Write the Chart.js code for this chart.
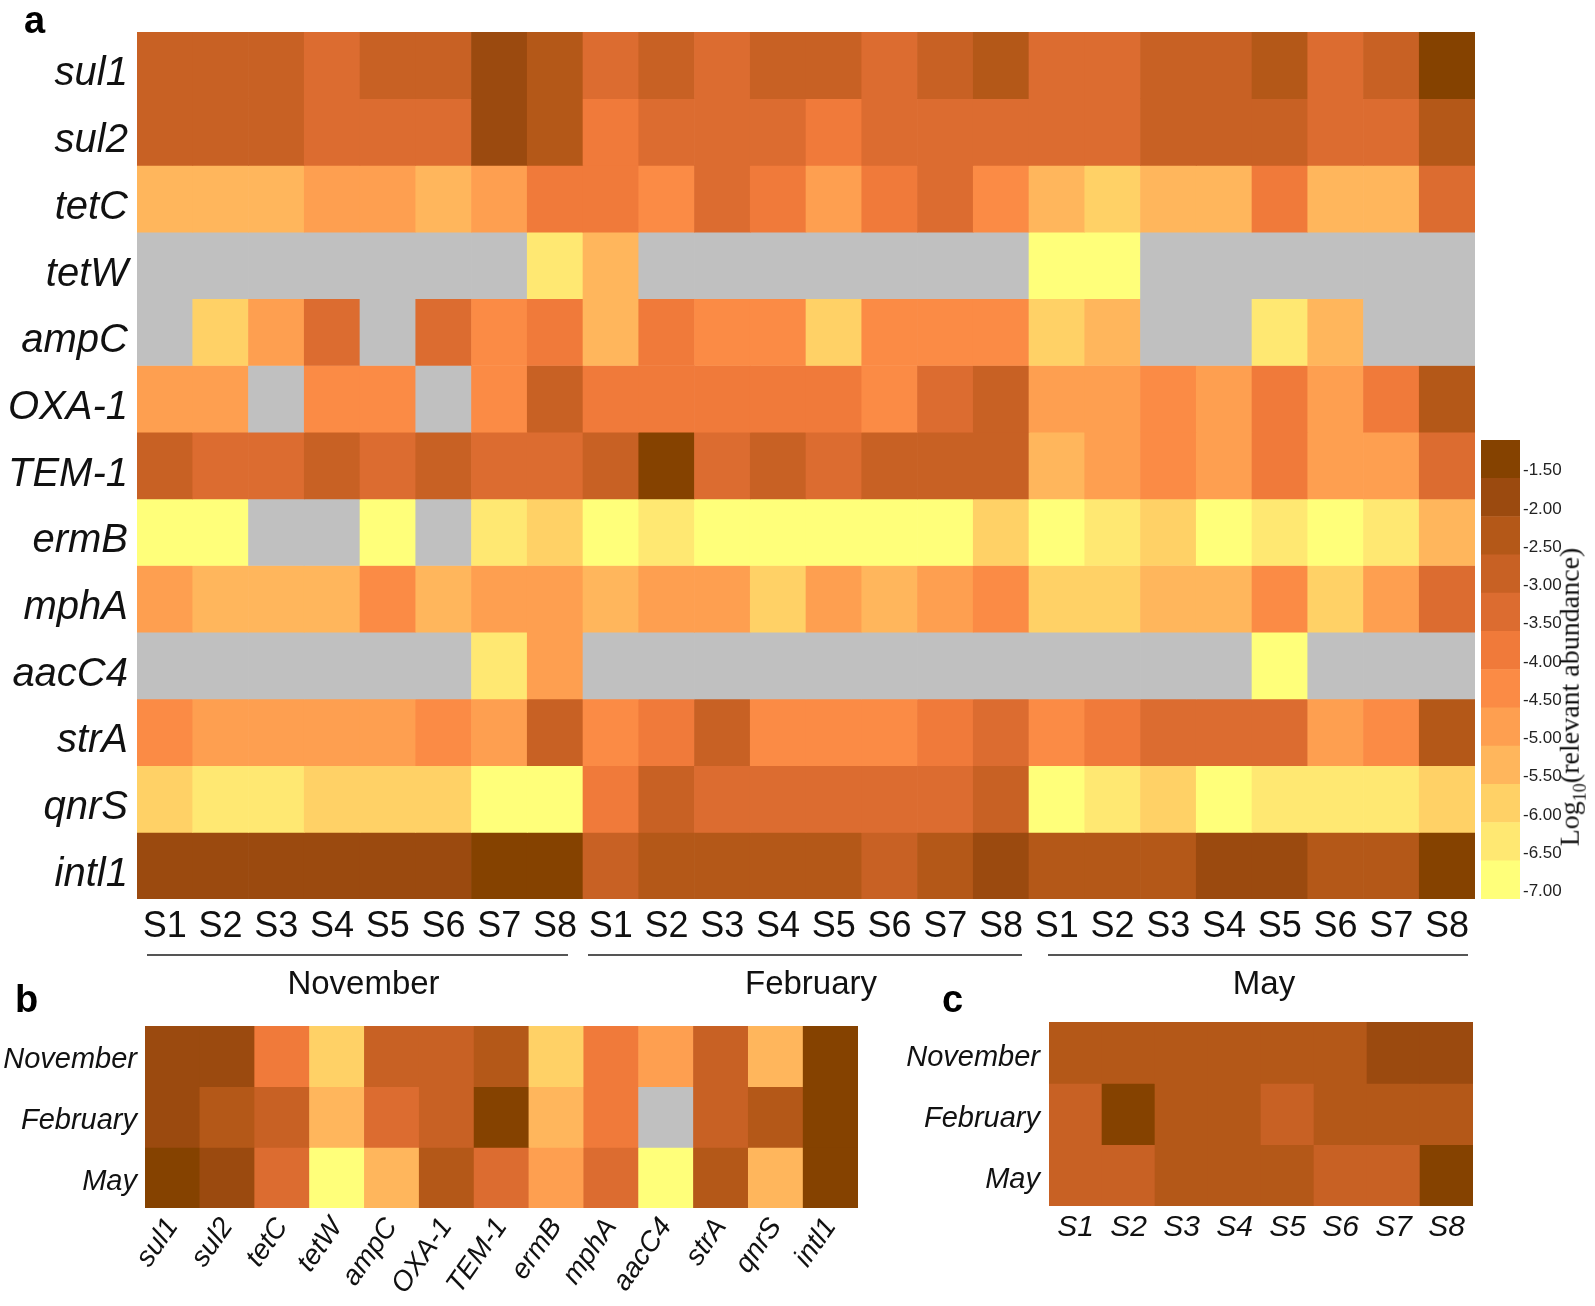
<!DOCTYPE html>
<html>
<head>
<meta charset="utf-8">
<script src="https://cdn.jsdelivr.net/npm/chart.js@4.4.1/dist/chart.umd.min.js"></script>
<style>
  body { margin: 0; background: #fff; }
  #wrap { position: relative; width: 1595px; height: 1306px; overflow: hidden; font-family: "Liberation Sans", Arial, sans-serif; }
  canvas { position: absolute; }
  .panel { position: absolute; font-weight: bold; font-size: 38px; line-height: 38px; color: #000; }
  #cbTitle { position: absolute; left: 1572px; top: 697px; transform: translate(-50%, -50%) rotate(-90deg);
             white-space: nowrap; font-family: "Liberation Serif", "Times New Roman", serif; font-size: 28px; color: #111; }
  #cbTitle sub { font-size: 18px; }
</style>
</head>
<body>
<div id="wrap">
  <canvas id="heatA" width="1480" height="1005" style="left:0;top:-2px"></canvas>
  <canvas id="colorBar" width="155" height="520" style="left:1440px;top:400px"></canvas>
  <canvas id="heatB" width="870" height="306" style="left:0;top:996px"></canvas>
  <canvas id="heatC" width="620" height="306" style="left:870px;top:992px"></canvas>
  <div class="panel" style="left:24px;top:1px">a</div>
  <div class="panel" style="left:15px;top:980px">b</div>
  <div class="panel" style="left:942px;top:980px">c</div>
  <div id="cbTitle">Log<sub>10</sub>(relevant abundance)</div>
</div>
<script>
var genes = ["sul1", "sul2", "tetC", "tetW", "ampC", "OXA-1", "TEM-1", "ermB", "mphA", "aacC4", "strA", "qnrS", "intl1"];
var sites = ["S1", "S2", "S3", "S4", "S5", "S6", "S7", "S8"];
var months = ["November", "February", "May"];

// colour scale of the legend (log10 relative abundance)
var colorTicks = [-1.5, -2.0, -2.5, -3.0, -3.5, -4.0, -4.5, -5.0, -5.5, -6.0, -6.5, -7.0];
var colorBreaks = [-7.1, -6.6, -6.1, -5.6, -5.1, -4.6, -4.1, -3.6, -3.1, -2.6, -2.1, -1.6, -1.1];
var palette = ["#ffff7a", "#ffe872", "#ffd166", "#ffb65c", "#fe9f50", "#fb8b45", "#f07a3a",
               "#dc6c30", "#c86124", "#b45818", "#9b4a0f", "#854200"];
var notDetected = "#c0c0c0";

// panel a: Nov S1-S8, Feb S1-S8, May S1-S8  (null = not detected)
var sul1  = [-3.0, -3.0, -3.0, -3.5, -3.0, -3.0, -2.0, -2.5,  -3.5, -3.0, -3.5, -3.0, -3.0, -3.5, -3.0, -2.5,  -3.5, -3.5, -3.0, -3.0, -2.5, -3.5, -3.0, -1.5];
var sul2  = [-3.0, -3.0, -3.0, -3.5, -3.5, -3.5, -2.0, -2.5,  -4.0, -3.5, -3.5, -3.5, -4.0, -3.5, -3.5, -3.5,  -3.5, -3.5, -3.0, -3.0, -3.0, -3.5, -3.5, -2.5];
var tetC  = [-5.5, -5.5, -5.5, -5.0, -5.0, -5.5, -5.0, -4.0,  -4.0, -4.5, -3.5, -4.0, -5.0, -4.0, -3.5, -4.5,  -5.5, -6.0, -5.5, -5.5, -4.0, -5.5, -5.5, -3.5];
var tetW  = [null, null, null, null, null, null, null, -6.5,  -5.5, null, null, null, null, null, null, null,  -7.0, -7.0, null, null, null, null, null, null];
var ampC  = [null, -6.0, -5.0, -3.5, null, -3.5, -4.5, -4.0,  -5.5, -4.0, -4.5, -4.5, -6.0, -4.5, -4.5, -4.5,  -6.0, -5.5, null, null, -6.5, -5.5, null, null];
var oxa1  = [-5.0, -5.0, null, -4.5, -4.5, null, -4.5, -3.0,  -4.0, -4.0, -4.0, -4.0, -4.0, -4.5, -3.5, -3.0,  -5.0, -5.0, -4.5, -5.0, -4.0, -5.0, -4.0, -2.5];
var tem1  = [-3.0, -3.5, -3.5, -3.0, -3.5, -3.0, -3.5, -3.5,  -3.0, -1.5, -3.5, -3.0, -3.5, -3.0, -3.0, -3.0,  -5.5, -5.0, -4.5, -5.0, -4.0, -5.0, -5.0, -3.5];
var ermB  = [-7.0, -7.0, null, null, -7.0, null, -6.5, -6.0,  -7.0, -6.5, -7.0, -7.0, -7.0, -7.0, -7.0, -6.0,  -7.0, -6.5, -6.0, -7.0, -6.5, -7.0, -6.5, -5.5];
var mphA  = [-5.0, -5.5, -5.5, -5.5, -4.5, -5.5, -5.0, -5.0,  -5.5, -5.0, -5.0, -6.0, -5.0, -5.5, -5.0, -4.5,  -6.0, -6.0, -5.5, -5.5, -4.5, -6.0, -5.0, -3.5];
var aacC4 = [null, null, null, null, null, null, -6.5, -5.0,  null, null, null, null, null, null, null, null,  null, null, null, null, -7.0, null, null, null];
var strA  = [-4.5, -5.0, -5.0, -5.0, -5.0, -4.5, -5.0, -3.0,  -4.5, -4.0, -3.0, -4.5, -4.5, -4.5, -4.0, -3.5,  -4.5, -4.0, -3.5, -3.5, -3.5, -5.0, -4.5, -2.5];
var qnrS  = [-6.0, -6.5, -6.5, -6.0, -6.0, -6.0, -7.0, -7.0,  -4.0, -3.0, -3.5, -3.5, -3.5, -3.5, -3.5, -3.0,  -7.0, -6.5, -6.0, -7.0, -6.5, -6.5, -6.5, -6.0];
var intl1 = [-2.0, -2.0, -2.0, -2.0, -2.0, -2.0, -1.5, -1.5,  -3.0, -2.5, -2.5, -2.5, -2.5, -3.0, -2.5, -2.0,  -2.5, -2.5, -2.5, -2.0, -2.0, -2.5, -2.5, -1.5];

// panel b: per gene for each month
var bNovember = [-2.0, -2.0, -4.0, -6.0, -3.0, -3.0, -2.5, -6.0, -4.0, -5.0, -3.0, -5.5, -1.5];
var bFebruary = [-2.0, -2.5, -3.0, -5.5, -3.5, -3.0, -1.5, -5.5, -4.0, null, -3.0, -2.5, -1.5];
var bMay      = [-1.5, -2.0, -3.5, -7.0, -5.5, -2.5, -3.5, -5.0, -3.5, -7.0, -2.5, -5.5, -1.5];

// panel c: per site for each month
var cNovember = [-2.5, -2.5, -2.5, -2.5, -2.5, -2.5, -2.0, -2.0];
var cFebruary = [-3.0, -1.5, -2.5, -2.5, -3.0, -2.5, -2.5, -2.5];
var cMay      = [-3.0, -3.0, -2.5, -2.5, -2.5, -3.0, -3.0, -1.5];

var regular = "'Liberation Sans', Arial, sans-serif";

function colorOf(v) {
    if (v === null) return notDetected;
    for (var k = 0; k < palette.length; k++) {
        if (v < colorBreaks[k + 1]) return palette[k];
    }
    return palette[palette.length - 1];
}

// a heatmap = stacked bars of height 1, one dataset per row
function makeHeatmap(id, xLabels, rowLabels, rows, cfg) {
    var datasets = rows.map(function (row, r) {
        return {
            label: rowLabels[r],
            data: row.map(function () { return 1; }),
            backgroundColor: row.map(colorOf),
            borderWidth: 0,
            barPercentage: 1.0,
            categoryPercentage: 1.0
        };
    });
    return new Chart(document.getElementById(id), {
        type: "bar",
        data: { labels: xLabels, datasets: datasets },
        options: {
            responsive: false,
            animation: false,
            devicePixelRatio: 1,
            layout: { padding: cfg.padding },
            plugins: { legend: { display: false }, tooltip: { enabled: false } },
            scales: {
                x: {
                    stacked: true,
                    grid: { display: false, drawTicks: false },
                    border: { display: false },
                    afterFit: function (s) { s.height = cfg.xHeight; },
                    ticks: { color: "#111", font: cfg.xFont, padding: cfg.xPad, autoSkip: false,
                             maxRotation: cfg.rot, minRotation: cfg.rot }
                },
                y: {
                    stacked: true,
                    reverse: true,
                    min: 0,
                    max: rows.length,
                    grid: { display: false, drawTicks: false },
                    border: { display: false },
                    afterFit: function (s) { s.width = cfg.yWidth; },
                    afterBuildTicks: function (s) {
                        s.ticks = rowLabels.map(function (l, i) { return { value: i + 0.5 }; });
                    },
                    ticks: { color: "#111", font: cfg.yFont, padding: cfg.yPad, autoSkip: false,
                             labelOffset: cfg.yShift,
                             callback: function (v, i) { return rowLabels[i]; } }
                }
            }
        },
        plugins: cfg.plugins || []
    });
}

// month brackets under panel a (left / right inset of each line)
var monthInsets = [[10, 15], [5, 7], [19, 7]];
var monthPlugin = {
    id: "months",
    afterDraw: function (chart) {
        var ctx = chart.ctx, xs = chart.scales.x;
        var colW = (xs.right - xs.left) / (months.length * sites.length);
        var yLine = chart.chartArea.bottom + 56;
        ctx.save();
        months.forEach(function (m, g) {
            var x0 = xs.getPixelForValue(g * sites.length) - colW / 2 + monthInsets[g][0];
            var x1 = xs.getPixelForValue(g * sites.length + sites.length - 1) + colW / 2 - monthInsets[g][1];
            ctx.strokeStyle = "#555";
            ctx.lineWidth = 2;
            ctx.beginPath();
            ctx.moveTo(x0, yLine);
            ctx.lineTo(x1, yLine);
            ctx.stroke();
            ctx.fillStyle = "#111";
            ctx.font = "33px " + regular;
            ctx.textAlign = "center";
            ctx.textBaseline = "middle";
            ctx.fillText(m, (x0 + x1) / 2 + 6, yLine + 30);
        });
        ctx.restore();
    }
};

var sampleLabels = [];
months.forEach(function () { sampleLabels = sampleLabels.concat(sites); });

makeHeatmap("heatA", sampleLabels, genes,
    [sul1, sul2, tetC, tetW, ampC, oxa1, tem1, ermB, mphA, aacC4, strA, qnrS, intl1], {
    padding: { top: 34, right: 5, bottom: 59, left: 0 },
    xHeight: 45, yWidth: 137, xPad: 6, yPad: 9, yShift: 9, rot: 0,
    xFont: { family: regular, size: 36 },
    yFont: { family: regular, size: 40, style: "italic" },
    plugins: [monthPlugin]
});

makeHeatmap("heatB", genes, months, [bNovember, bFebruary, bMay], {
    padding: { top: 30, right: 12, bottom: 0, left: 0 },
    xHeight: 94, yWidth: 145, xPad: 4, yPad: 8, yShift: 4, rot: 55,
    xFont: { family: regular, size: 28, style: "italic" },
    yFont: { family: regular, size: 29, style: "italic" }
});

makeHeatmap("heatC", sites, months, [cNovember, cFebruary, cMay], {
    padding: { top: 30, right: 17, bottom: 52, left: 0 },
    xHeight: 40, yWidth: 179, xPad: 4, yPad: 9, yShift: 5, rot: 0,
    xFont: { family: regular, size: 30, style: "italic" },
    yFont: { family: regular, size: 29, style: "italic" }
});

// colour bar legend: one floating bar per colour band
new Chart(document.getElementById("colorBar"), {
    type: "bar",
    data: {
        labels: [""],
        datasets: palette.map(function (c, k) {
            return { data: [[colorBreaks[k], colorBreaks[k + 1]]], backgroundColor: c, grouped: false,
                     borderWidth: 0, barPercentage: 1.0, categoryPercentage: 1.0 };
        })
    },
    options: {
        responsive: false,
        animation: false,
        devicePixelRatio: 1,
        layout: { padding: { left: 41, top: 40, bottom: 21, right: 0 } },
        plugins: { legend: { display: false }, tooltip: { enabled: false } },
        scales: {
            x: { display: false },
            y: {
                position: "right",
                min: colorBreaks[0],
                max: colorBreaks[colorBreaks.length - 1],
                grid: { display: false, drawTicks: false },
                border: { display: false },
                afterFit: function (s) { s.width = 75; },
                afterBuildTicks: function (s) {
                    s.ticks = colorTicks.map(function (v) { return { value: v }; });
                },
                ticks: { color: "#222", padding: 3, font: { family: regular, size: 17 },
                         callback: function (v) { return Number(v).toFixed(2); } }
            }
        }
    }
});
</script>
</body>
</html>
